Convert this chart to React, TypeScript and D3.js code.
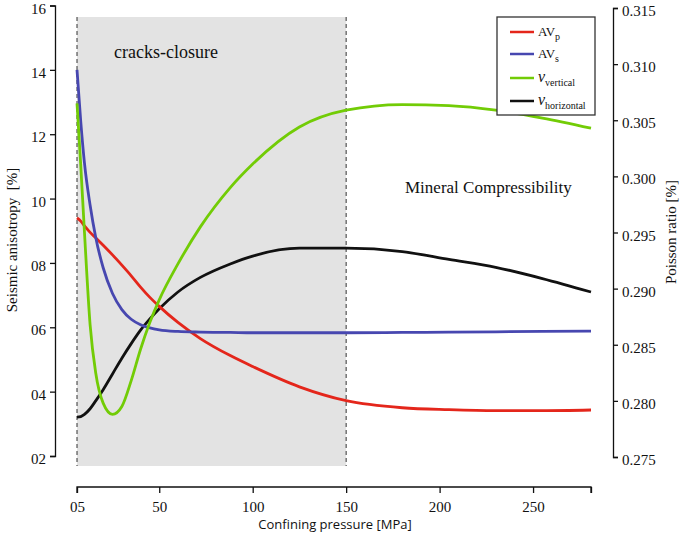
import React, { useRef, useEffect } from 'react';
import * as d3 from 'd3';

const pressure = [6, 8, 10, 13, 16, 20, 25, 30, 35, 40, 45, 50, 60, 72, 88, 100, 125, 150, 180, 205, 230, 255, 281];
const avp = [9.4, 9.3, 9.15, 8.95, 8.78, 8.55, 8.25, 7.93, 7.6, 7.25, 6.93, 6.65, 6.15, 5.65, 5.12, 4.78, 4.15, 3.72, 3.5, 3.44, 3.41, 3.41, 3.43];
const avs = [14.0, 12.4, 11.1, 9.8, 8.8, 7.85, 7.05, 6.55, 6.25, 6.08, 5.98, 5.92, 5.87, 5.85, 5.84, 5.83, 5.83, 5.83, 5.84, 5.85, 5.86, 5.87, 5.88];
const nuVertical = [0.3065, 0.301, 0.295, 0.2868, 0.2825, 0.2798, 0.2788, 0.2795, 0.2818, 0.2846, 0.287, 0.289, 0.2922, 0.2955, 0.299, 0.3011, 0.3044, 0.3059, 0.3064, 0.3063, 0.3059, 0.3052, 0.3043];
const nuHorizontal = [0.27855, 0.2786, 0.2788, 0.2793, 0.28, 0.281, 0.2824, 0.2838, 0.2851, 0.2863, 0.2873, 0.2882, 0.2897, 0.291, 0.2922, 0.2929, 0.2936, 0.2936, 0.2933, 0.2926, 0.2919, 0.2909, 0.2897];

const xTickValues = [6, 50, 100, 150, 200, 250, 281];
const xTickLabels = ['05', '50', '100', '150', '200', '250', ''];
const leftTickValues = [16, 14, 12, 10, 8, 6, 4, 2];
const leftTickLabels = ['16', '14', '12', '10', '08', '06', '04', '02'];
const rightTickValues = [0.315, 0.31, 0.305, 0.3, 0.295, 0.29, 0.285, 0.28, 0.275];
const crackZone = [6, 150];

const SERIF = '"Liberation Serif", "Times New Roman", Times, serif';

export default function App() {
  const ref = useRef<SVGSVGElement>(null);

  useEffect(() => {
    const svg = d3.select(ref.current);
    svg.selectAll('*').remove();

    const x = d3.scaleLinear().domain([6, 281]).range([77, 591]);
    const yL = d3.scaleLinear().domain([2, 16]).range([456, 5.5]);
    const yR = d3.scaleLinear().domain([0.275, 0.315]).range([457, 8]);

    const zTop = 17, zBot = 466;
    svg.append('rect')
      .attr('x', x(crackZone[0])).attr('y', zTop)
      .attr('width', x(crackZone[1]) - x(crackZone[0])).attr('height', zBot - zTop)
      .attr('fill', '#e3e3e3');
    crackZone.forEach(v => {
      svg.append('line')
        .attr('x1', x(v)).attr('x2', x(v)).attr('y1', zTop).attr('y2', zBot)
        .attr('stroke', '#333').attr('stroke-width', 1).attr('stroke-dasharray', '4,3');
    });

    svg.append('text').attr('x', 114).attr('y', 58)
      .style('font-family', SERIF).style('font-size', '18px').attr('fill', '#111')
      .text('cracks-closure');
    svg.append('text').attr('x', 405).attr('y', 193)
      .style('font-family', SERIF).style('font-size', '17px').attr('fill', '#111')
      .text('Mineral Compressibility');

    const mk = (vals: number[], ys: d3.ScaleLinear<number, number>) =>
      d3.line<number>().x((_, i) => x(pressure[i])).y(d => ys(d)).curve(d3.curveMonotoneX)(vals);

    const series = [
      { vals: nuHorizontal, s: yR, c: '#111111' },
      { vals: avp, s: yL, c: '#e4261b' },
      { vals: avs, s: yL, c: '#4747b0' },
      { vals: nuVertical, s: yR, c: '#72cc06' },
    ];
    series.forEach(se => {
      svg.append('path').attr('d', mk(se.vals, se.s) as string)
        .attr('fill', 'none').attr('stroke', se.c).attr('stroke-width', 2.8)
        .attr('stroke-linejoin', 'round');
    });

    const styleAxis = (g: any) => {
      g.attr('font-family', null).attr('font-size', null);
      g.selectAll('path').attr('stroke', '#111').attr('stroke-width', 1.3);
      g.selectAll('line').attr('stroke', '#111').attr('stroke-width', 1.3);
      g.selectAll('text').style('font-family', SERIF).style('font-size', '15px').attr('fill', '#111');
    };

    const gl = svg.append('g').attr('transform', 'translate(55,0)')
      .call(d3.axisLeft(yL).tickValues(leftTickValues).tickSize(5).tickSizeOuter(5).tickPadding(4)
        .tickFormat((_, i) => leftTickLabels[i]) as any);
    styleAxis(gl);
    gl.selectAll('text').attr('dy', '0.5em');

    const gr = svg.append('g').attr('transform', 'translate(613,0)')
      .call(d3.axisRight(yR).tickValues(rightTickValues).tickSize(5).tickSizeOuter(5).tickPadding(4)
        .tickFormat(d3.format('.3f')) as any);
    styleAxis(gr);
    gr.selectAll('text').attr('dy', '0.5em');

    const gb = svg.append('g').attr('transform', 'translate(0,487)')
      .call(d3.axisBottom(x).tickValues(xTickValues).tickSize(6).tickSizeOuter(6).tickPadding(8)
        .tickFormat((_, i) => xTickLabels[i]) as any);
    styleAxis(gb);
    gb.select('path').attr('d', `M${x(6)},6V0H${x(281)}V6`);

    svg.append('text')
      .attr('transform', 'translate(17,240) rotate(-90)')
      .attr('text-anchor', 'middle').style('font-family', SERIF).style('font-size', '15px').attr('fill', '#111')
      .style('white-space', 'pre')
      .text('Seismic anisotropy  [%]');
    svg.append('text')
      .attr('transform', 'translate(676,232) rotate(-90)')
      .attr('text-anchor', 'middle').style('font-family', SERIF).style('font-size', '15px').attr('fill', '#111')
      .text('Poisson ratio [%]');
    svg.append('text')
      .attr('x', 335).attr('y', 529)
      .attr('text-anchor', 'middle').style('font-family', '"Open Sans", sans-serif').style('font-size', '13px').attr('fill', '#111')
      .text('Confining pressure [MPa]');

    const lg = svg.append('g');
    lg.append('rect').attr('x', 497).attr('y', 17).attr('width', 98).attr('height', 98)
      .attr('fill', '#fff').attr('stroke', '#333').attr('stroke-width', 1.3);
    const items = [
      { c: '#e4261b', main: 'AV', sub: 'p', italic: false },
      { c: '#4747b0', main: 'AV', sub: 's', italic: false },
      { c: '#72cc06', main: 'ν', sub: 'vertical', italic: true },
      { c: '#111111', main: 'ν', sub: 'horizontal', italic: true },
    ];
    const rowsY = [32, 54, 78, 101];
    items.forEach((it, i) => {
      const yy = rowsY[i];
      lg.append('line').attr('x1', 510).attr('x2', 534).attr('y1', yy).attr('y2', yy)
        .attr('stroke', it.c).attr('stroke-width', 2.5);
      const t = lg.append('text').attr('x', 538).attr('y', yy + 4)
        .style('font-family', SERIF).style('font-size', '13px').attr('fill', '#111');
      t.append('tspan').style('font-style', it.italic ? 'italic' : 'normal')
        .style('font-size', it.italic ? '16px' : '13px').text(it.main);
      t.append('tspan').style('font-size', '10px').attr('dy', 4).text(it.sub);
    });
  }, []);

  return (
    <svg ref={ref} width={685} height={538}
      style={{ position: 'absolute', left: 0, top: 0, background: '#fff' }} />
  );
}
